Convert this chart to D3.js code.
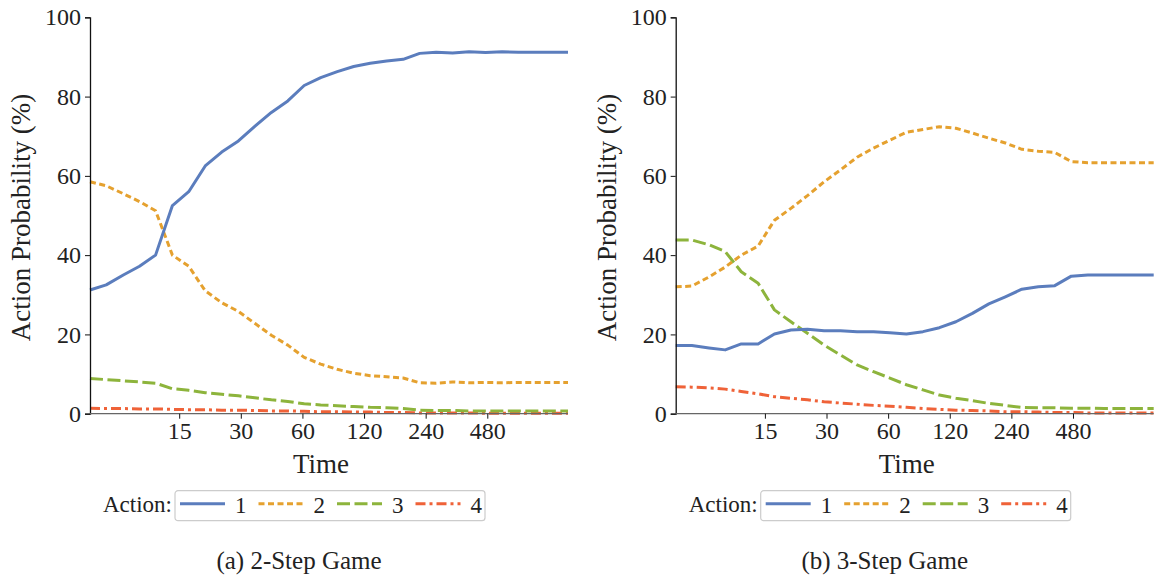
<!DOCTYPE html>
<html lang="en">
<head>
<meta charset="UTF-8">
<title>Action Probability</title>
<script src="https://d3js.org/d3.v7.min.js"></script>
<style>
    body { margin: 0; background: #fff; }
    svg text { font-family: 'Liberation Serif', 'DejaVu Serif', serif; fill: #222; }
</style>
</head>
<body>
<svg id="chart" width="1155" height="580"></svg>
<script>
// time points (log-spaced sampling)
const times = [5.5, 6.6, 8.0, 9.6, 11.5, 13.9, 16.7, 20.1, 24.2, 29.2, 35.1, 42.3, 50.9, 61.2, 73.7,
    88.8, 106.8, 128.6, 154.8, 186.3, 224.3, 270, 325, 391, 471, 567, 682, 821, 988, 1190];
const xTicks = [15, 30, 60, 120, 240, 480];
const yTicks = [0, 20, 40, 60, 80, 100];
const actions = ["1", "2", "3", "4"];

// (a) 2-step game
const twoStep1 = [31.2, 32.5, 35, 37.2, 40, 52.5, 56, 62.5, 66, 68.8, 72.5, 76, 78.9, 82.8, 84.8,
    86.3, 87.6, 88.4, 89, 89.4, 90.9, 91.2, 91, 91.3, 91.1, 91.3, 91.2, 91.2, 91.2, 91.2];
const twoStep2 = [58.5, 57.5, 55.5, 53.5, 51.2, 40, 37.2, 31, 28, 25.8, 22.8, 19.8, 17.3, 14.2, 12.5,
    11.2, 10.2, 9.6, 9.3, 9.0, 7.8, 7.7, 8.0, 7.8, 7.9, 7.8, 7.9, 7.9, 7.9, 7.9];
const twoStep3 = [8.9, 8.6, 8.3, 8.0, 7.7, 6.3, 5.9, 5.3, 4.9, 4.5, 4.0, 3.5, 3.1, 2.5, 2.2,
    2.0, 1.8, 1.6, 1.5, 1.3, 0.9, 0.8, 0.8, 0.7, 0.7, 0.7, 0.7, 0.7, 0.7, 0.7];
const twoStep4 = [1.4, 1.3, 1.3, 1.2, 1.2, 1.1, 1.0, 1.0, 0.9, 0.9, 0.8, 0.7, 0.7, 0.6, 0.5,
    0.5, 0.4, 0.4, 0.3, 0.3, 0.2, 0.2, 0.2, 0.2, 0.1, 0.1, 0.1, 0.1, 0.1, 0.1];

// (b) 3-step game
const threeStep1 = [17.2, 17.2, 16.6, 16.1, 17.6, 17.6, 20.1, 21.1, 21.3, 20.9, 20.9, 20.7, 20.7, 20.4, 20.1,
    20.7, 21.7, 23.2, 25.3, 27.7, 29.5, 31.4, 32.0, 32.3, 34.7, 35.0, 35.0, 35.0, 35.0, 35.0];
const threeStep2 = [32, 32.2, 34.5, 37, 40, 42.3, 48.8, 51.8, 55, 58.5, 61.5, 64.7, 67, 69, 71,
    71.7, 72.4, 72, 70.8, 69.5, 68.3, 66.7, 66.2, 65.9, 63.6, 63.3, 63.3, 63.3, 63.3, 63.3];
const threeStep3 = [43.8, 43.8, 42.6, 40.9, 35.8, 32.9, 26.2, 23.2, 20.3, 17.3, 14.8, 12.3, 10.6, 9.0, 7.3,
    6.0, 4.7, 3.9, 3.3, 2.6, 2.1, 1.6, 1.5, 1.5, 1.4, 1.4, 1.3, 1.3, 1.3, 1.3];
const threeStep4 = [6.8, 6.7, 6.5, 6.2, 5.6, 5.0, 4.3, 3.9, 3.5, 3.0, 2.7, 2.4, 2.1, 1.9, 1.6,
    1.3, 1.1, 0.9, 0.8, 0.7, 0.5, 0.5, 0.4, 0.3, 0.3, 0.2, 0.2, 0.2, 0.2, 0.2];

const colors = ["#5b7dbd", "#e5a12f", "#8db43c", "#ef6238"];
const dashes = [null, "6,3.5", "13,4.5", "10,4,3,4"];

const svg = d3.select("#chart");
const plotW = 478, plotH = 396.4;
const topY = 17.3;

const x = d3.scaleLog().base(2).domain([5.5, 1190]).range([0, plotW]);
const y = d3.scaleLinear().domain([0, 100]).range([plotH, 0]);

function drawPanel(ox, series, caption) {
    const g = svg.append("g").attr("transform", `translate(${ox},${topY})`);

    const line = d3.line()
        .x((d, i) => x(times[i]))
        .y(d => y(d));

    // lines (draw 4 first so 1 sits on top)
    series.map((s, k) => ({ s, k })).reverse().forEach(({ s, k }) => {
        g.append("path")
            .datum(s)
            .attr("fill", "none")
            .attr("stroke", colors[k])
            .attr("stroke-width", 3)
            .attr("stroke-dasharray", dashes[k])
            .attr("stroke-linejoin", "round")
            .attr("d", line);
    });

    // y axis
    const yAxis = g.append("g")
        .call(d3.axisLeft(y).tickValues(yTicks).tickSize(5).tickPadding(4));
    yAxis.select(".domain").attr("stroke", "#111").attr("stroke-width", 1.3);
    yAxis.selectAll(".tick line").attr("stroke", "#111");
    yAxis.selectAll("text").attr("font-size", 24).attr("fill", "#222");

    // x axis
    const xAxis = g.append("g")
        .attr("transform", `translate(0,${plotH})`)
        .call(d3.axisBottom(x).tickValues(xTicks).tickFormat(d3.format("d")).tickSize(5).tickPadding(3));
    xAxis.select(".domain").attr("d", `M0,0H${plotW}`).attr("stroke", "#666").attr("stroke-width", 1.3);
    xAxis.selectAll(".tick line").attr("stroke", "#111");
    xAxis.selectAll("text").attr("font-size", 24).attr("fill", "#222");

    // axis titles
    g.append("text")
        .attr("transform", `translate(-60,${plotH / 2 + 2}) rotate(-90)`)
        .attr("text-anchor", "middle")
        .attr("font-size", 27)
        .text("Action Probability (%)");
    g.append("text")
        .attr("x", plotW / 2 - 8)
        .attr("y", plotH + 59)
        .attr("text-anchor", "middle")
        .attr("font-size", 27)
        .text("Time");

    // legend
    const lg = g.append("g").attr("transform", `translate(85,${plotH + 77})`);
    lg.append("text")
        .attr("x", -3).attr("y", 21)
        .attr("text-anchor", "end")
        .attr("font-size", 23)
        .text("Action:");
    lg.append("rect")
        .attr("x", 0).attr("y", 0)
        .attr("width", 310).attr("height", 30)
        .attr("rx", 3)
        .attr("fill", "#fff")
        .attr("stroke", "#ccc")
        .attr("stroke-width", 1.2);
    actions.forEach((a, k) => {
        const lx = 5 + k * 78.5;
        lg.append("line")
            .attr("x1", lx).attr("x2", lx + 45)
            .attr("y1", 13).attr("y2", 13)
            .attr("stroke", colors[k])
            .attr("stroke-width", 3)
            .attr("stroke-dasharray", dashes[k]);
        lg.append("text")
            .attr("x", lx + 55).attr("y", 22)
            .attr("font-size", 23)
            .text(a);
    });

    // caption
    g.append("text")
        .attr("x", plotW / 2 - 30)
        .attr("y", plotH + 155)
        .attr("text-anchor", "middle")
        .attr("font-size", 25)
        .text(caption);
}

drawPanel(90, [twoStep1, twoStep2, twoStep3, twoStep4], "(a) 2-Step Game");
drawPanel(675.7, [threeStep1, threeStep2, threeStep3, threeStep4], "(b) 3-Step Game");
</script>
</body>
</html>
